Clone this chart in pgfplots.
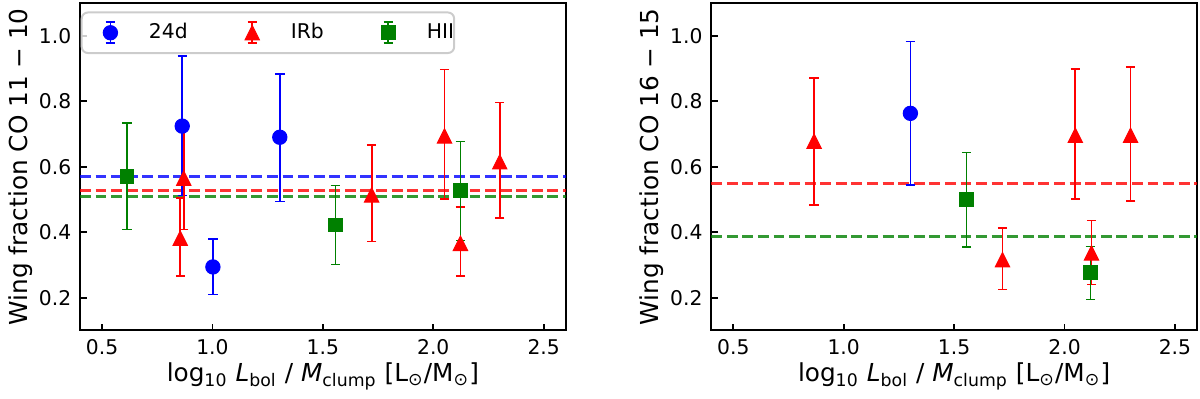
\documentclass[border=0pt]{standalone}
\usepackage{fontspec}
\setmainfont{DejaVu Sans}
\usepackage{pgfplots}
\pgfplotsset{compat=1.18}

% matplotlib-like upward triangle (width = height)
\pgfdeclareplotmark{mtri}{%
  \pgfpathmoveto{\pgfqpoint{0pt}{\pgfplotmarksize}}%
  \pgfpathlineto{\pgfqpoint{-\pgfplotmarksize}{-\pgfplotmarksize}}%
  \pgfpathlineto{\pgfqpoint{\pgfplotmarksize}{-\pgfplotmarksize}}%
  \pgfpathclose
  \pgfusepathqfillstroke}

\definecolor{mblue}{rgb}{0,0,1}
\definecolor{mred}{rgb}{1,0,0}
\definecolor{mgreen}{rgb}{0,0.5,0}
\newcommand{\fs}{\fontsize{8.2}{9.8}\selectfont}
\newcommand{\gap}{\hbox to 18.5pt{}}

\pgfplotsset{
  panel/.style={
    scale only axis, width=196.4pt, height=132.4pt,
    xmin=0.4, xmax=2.6, ymin=0.1, ymax=1.1,
    xtick={0.5,1.0,1.5,2.0,2.5}, ytick={0.2,0.4,0.6,0.8,1.0},
    /pgf/number format/fixed, /pgf/number format/fixed zerofill,
    /pgf/number format/precision=1,
    /pgf/number format/assume math mode=true,
    tick align=inside, xtick pos=bottom, ytick pos=left,
    major tick length=2.8pt, tick style={black, line width=0.7pt},
    axis line style={line width=0.8pt},
    tick label style={font=\fs},
    label style={font=\fs},
    xlabel={log\textsubscript{10} \textit{L}\textsubscript{bol} / \textit{M}\textsubscript{clump} [L\textsubscript{⊙}/M\textsubscript{⊙}]},
    every axis x label/.style={at={(axis description cs:0.5,0)}, yshift=-18.6pt, anchor=center},
    every axis y label/.style={at={(axis description cs:-0.123,0.5)}, rotate=90, anchor=center},
    clip=false,
  },
  meanline/.style={line width=1.2pt, opacity=0.8, dash pattern=on 4.4pt off 1.9pt, forget plot},
  ebar/.style 2 args={only marks, #1, mark options={line width=0.4pt, solid},
    error bars/y dir=both, error bars/y explicit,
    error bars/error bar style={line width=#2, #1},
    error bars/error mark options={rotate=90, mark size=1.9pt, line width=#2, #1}},
  s24d/.style={mark=*, mark size=2.9pt, ebar={mblue}{0.7pt}},
  sirb/.style={mark=mtri, mark size=2.9pt, ebar={mred}{0.7pt}},
  shii/.style={mark=square*, mark size=2.8pt, ebar={mgreen}{0.55pt}},
}

\begin{document}
\begin{tikzpicture}
\begin{axis}[
  panel,
  ylabel={Wing fraction CO 11 − 10},
  legend columns=3,
  legend style={at={(axis description cs:0.026,0.968)}, anchor=north west,
    xshift=-4.8pt, yshift=0.8pt,
    draw=black!20, line width=0.8pt, rounded corners=2.5pt,
    fill=white, fill opacity=0.8, text opacity=1,
    inner xsep=4pt, inner ysep=3.1pt, font=\fs,
    nodes={inner sep=0pt}, column sep=0pt},
  legend image code/.code={
    \path (-3.2pt,-4.7pt) (19.2pt,4.7pt);
    \draw[#1, sharp corners, opacity=1, line width=0.7pt]
      (4pt,-4.25pt) -- (4pt,4.25pt)
      (2.1pt,-4.25pt) -- (5.9pt,-4.25pt)
      (2.1pt,4.25pt) -- (5.9pt,4.25pt);
    \draw[#1, sharp corners, opacity=1] plot coordinates {(4pt,0pt)};
  },
]
\addplot[meanline, mblue]  coordinates {(0.4,0.570) (2.6,0.570)};
\addplot[meanline, mred]   coordinates {(0.4,0.527) (2.6,0.527)};
\addplot[meanline, mgreen] coordinates {(0.4,0.508) (2.6,0.508)};

\addplot[s24d] coordinates {
  (0.863,0.724) += (0,0.215) -= (0,0.212)
  (1.002,0.294) += (0,0.086) -= (0,0.084)
  (1.305,0.690) += (0,0.194) -= (0,0.196)
};
\addlegendentry{24d\gap}
\addplot[sirb] coordinates {
  (0.854,0.382) += (0,0.122) -= (0,0.115)
  (0.870,0.565) += (0,0.155) -= (0,0.157)
  (1.721,0.514) += (0,0.152) -= (0,0.142)
  (2.051,0.694) += (0,0.203) -= (0,0.193)
  (2.123,0.366) += (0,0.110) -= (0,0.100)
  (2.301,0.615) += (0,0.181) -= (0,0.171)
};
\addlegendentry{IRb\gap}
\addplot[shii] coordinates {
  (0.613,0.570) += (0,0.163) -= (0,0.162)
  (1.556,0.422) += (0,0.121) -= (0,0.120)
  (2.122,0.527) += (0,0.151) -= (0,0.152)
};
\addlegendentry{HII\hbox to -4pt{}}
\end{axis}

\begin{axis}[
  panel, at={(255.2pt,0pt)},
  ylabel={Wing fraction CO 16 − 15},
]
\addplot[meanline, mred]   coordinates {(0.4,0.549) (2.6,0.549)};
\addplot[meanline, mgreen] coordinates {(0.4,0.387) (2.6,0.387)};

\addplot[s24d] coordinates {
  (1.302,0.763) += (0,0.219) -= (0,0.219)
};
\addplot[sirb] coordinates {
  (0.866,0.678) += (0,0.194) -= (0,0.194)
  (1.719,0.316) += (0,0.097) -= (0,0.091)
  (2.049,0.696) += (0,0.202) -= (0,0.195)
  (2.122,0.337) += (0,0.099) -= (0,0.097)
  (2.299,0.696) += (0,0.209) -= (0,0.200)
};
\addplot[shii] coordinates {
  (1.556,0.500) += (0,0.143) -= (0,0.145)
  (2.117,0.276) += (0,0.081) -= (0,0.081)
};
\end{axis}
\path (-27.2pt,-22pt) rectangle (452.8pt,133.6pt);
\end{tikzpicture}
\end{document}
